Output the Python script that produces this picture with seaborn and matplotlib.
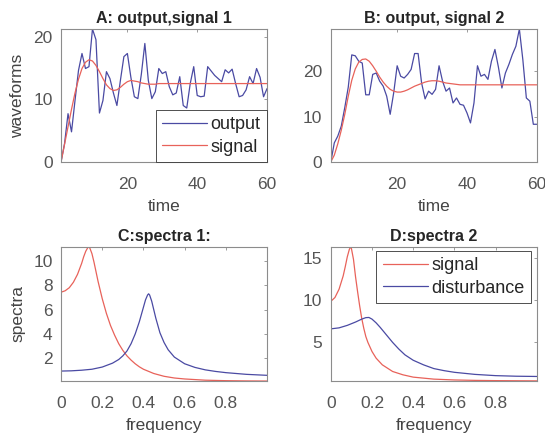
import numpy as np
import pandas as pd
import matplotlib
matplotlib.use("Agg")
import matplotlib.pyplot as plt
import seaborn as sns

# --- data ---
time = np.arange(1, 61)

output_1 = [0, 2.9, 7.7, 4.8, 9.8, 14.6, 17.3, 14.9, 15.2, 21.2,
            19.5, 7.8, 9.8, 14.4, 13.3, 11.0, 9.0, 13.0, 16.8, 17.3,
            13.5, 10.4, 10.1, 14.0, 18.9, 13.0, 10.1, 11.2, 14.9, 14.1,
            14.4, 12.0, 10.7, 11.0, 13.6, 9.0, 8.6, 12.5, 15.2, 10.6,
            10.4, 10.5, 15.2, 14.5, 13.8, 13.3, 12.8, 14.7, 14.2, 14.8,
            12.5, 10.4, 10.6, 11.5, 13.6, 12.5, 14.9, 13.5, 10.4, 11.7]
signal_1 = [0, 2.8, 5.6, 8.4, 11.0, 13.2, 14.9, 15.9, 16.3, 16.1,
            15.4, 14.4, 13.3, 12.3, 11.7, 11.4, 11.5, 11.9, 12.4, 12.8,
            13.0, 12.9, 12.8, 12.6, 12.5, 12.4, 12.4, 12.4, 12.5, 12.5,
            12.5, 12.5, 12.5, 12.5, 12.5, 12.5, 12.5, 12.5, 12.5, 12.5,
            12.5, 12.5, 12.5, 12.5, 12.5, 12.5, 12.5, 12.5, 12.5, 12.5,
            12.5, 12.5, 12.5, 12.5, 12.5, 12.5, 12.5, 12.5, 12.5, 12.5]

output_2 = [0, 4.2, 5.7, 7.9, 12.0, 16.5, 23.6, 23.4, 22.2, 21.8,
            14.8, 14.8, 19.3, 19.6, 17.8, 16.7, 14.5, 10.5, 15.2, 21.2,
            18.9, 18.5, 19.3, 20.4, 23.9, 23.9, 17.4, 13.9, 15.6, 14.9,
            16.0, 21.2, 17.8, 15.6, 16.3, 13.0, 14.1, 12.7, 12.5, 10.8,
            8.6, 13.0, 21.2, 18.9, 19.3, 18.2, 22.2, 24.8, 20.9, 16.3,
            19.6, 21.5, 23.7, 25.5, 29.3, 22.5, 14.1, 13.4, 8.3, 8.3]
signal_2 = [0, 1.5, 4.0, 7.0, 10.5, 14.5, 18.0, 20.5, 22.0, 22.6,
            22.7, 22.2, 21.2, 20.0, 18.7, 17.6, 16.7, 16.0, 15.6, 15.4,
            15.4, 15.6, 15.9, 16.3, 16.7, 17.0, 17.3, 17.6, 17.8, 17.9,
            17.9, 17.8, 17.6, 17.4, 17.3, 17.2, 17.1, 17.0, 17.0, 17.0,
            17.0, 17.0, 17.0, 17.0, 17.0, 17.0, 17.0, 17.0, 17.0, 17.0,
            17.0, 17.0, 17.0, 17.0, 17.0, 17.0, 17.0, 17.0, 17.0, 17.0]

freq_sig_1 = [0, 0.02, 0.04, 0.06, 0.08, 0.1, 0.11, 0.12, 0.13, 0.135,
              0.14, 0.15, 0.16, 0.17, 0.18, 0.19, 0.2, 0.22, 0.24, 0.26,
              0.28, 0.3, 0.32, 0.34, 0.36, 0.38, 0.4, 0.45, 0.5, 0.55,
              0.6, 0.7, 0.8, 0.9, 1.0]
spec_sig_1 = [7.43, 7.55, 7.8, 8.25, 8.9, 9.8, 10.35, 10.8, 11.1, 11.16,
              11.05, 10.6, 9.9, 9.1, 8.3, 7.6, 6.9, 5.7, 4.7, 3.9,
              3.2, 2.65, 2.2, 1.85, 1.55, 1.3, 1.1, 0.75, 0.52, 0.38,
              0.3, 0.2, 0.16, 0.14, 0.13]
freq_dist_1 = [0, 0.05, 0.1, 0.15, 0.2, 0.25, 0.28, 0.3, 0.32, 0.34,
               0.36, 0.38, 0.4, 0.41, 0.42, 0.425, 0.43, 0.44, 0.45, 0.46,
               0.48, 0.5, 0.52, 0.55, 0.6, 0.65, 0.7, 0.75, 0.8, 0.9, 1.0]
spec_dist_1 = [0.95, 0.97, 1.02, 1.1, 1.28, 1.6, 1.9, 2.2, 2.6, 3.2,
               4.0, 5.0, 6.2, 6.8, 7.2, 7.3, 7.2, 6.7, 6.0, 5.3,
               4.1, 3.3, 2.7, 2.1, 1.55, 1.25, 1.05, 0.92, 0.82, 0.68, 0.6]

freq_sig_2 = [0, 0.02, 0.04, 0.06, 0.07, 0.08, 0.09, 0.096, 0.1, 0.11,
              0.12, 0.13, 0.14, 0.15, 0.16, 0.17, 0.18, 0.2, 0.22, 0.25,
              0.3, 0.35, 0.4, 0.5, 0.6, 0.7, 0.8, 1.0]
spec_sig_2 = [9.84, 10.3, 11.3, 12.9, 14.0, 15.2, 16.1, 16.4, 16.2, 14.9,
              12.8, 11.0, 9.3, 7.8, 6.6, 5.6, 4.9, 3.8, 3.0, 2.2,
              1.4, 1.0, 0.72, 0.48, 0.38, 0.33, 0.3, 0.27]
freq_dist_2 = [0, 0.04, 0.08, 0.12, 0.15, 0.17, 0.185, 0.2, 0.22, 0.24,
               0.26, 0.28, 0.3, 0.33, 0.36, 0.4, 0.45, 0.5, 0.55, 0.6,
               0.7, 0.8, 0.9, 1.0]
spec_dist_2 = [6.53, 6.65, 6.95, 7.35, 7.7, 7.88, 7.9, 7.7, 7.25, 6.7,
               6.1, 5.5, 4.9, 4.1, 3.4, 2.75, 2.2, 1.75, 1.5, 1.3,
               1.05, 0.9, 0.83, 0.8]

BLUE = "#4a4aa3"
RED = "#e8625a"
TICK_GREY = "#555555"
FS = 12.5

sns.set_style("white")
plt.rcParams['font.family'] = ['Liberation Sans', 'DejaVu Sans']
plt.rcParams['font.size'] = FS

fig = plt.figure(figsize=(5.45, 4.4), dpi=100)

# axes positions (left, bottom, width, height) matching the MATLAB layout
ax_a = fig.add_axes([0.112, 0.632, 0.378, 0.302])
ax_b = fig.add_axes([0.607, 0.632, 0.378, 0.302])
ax_c = fig.add_axes([0.112, 0.134, 0.378, 0.305])
ax_d = fig.add_axes([0.607, 0.134, 0.378, 0.305])


def style_axes(ax):
    for sp in ax.spines.values():
        sp.set_color("#8c8c8c")
        sp.set_linewidth(0.8)
    ax.tick_params(direction="in", length=2.5, width=0.6, color="#8c8c8c",
                   labelcolor=TICK_GREY, labelsize=FS, top=True, right=True)
    ax.tick_params(axis="x", pad=11)
    ax.tick_params(axis="y", pad=6)
    ax.set_xlabel(ax.get_xlabel(), color="#444444", fontsize=FS, labelpad=5)
    ax.set_ylabel(ax.get_ylabel(), color="#444444", fontsize=FS, labelpad=6)


def style_legend(leg):
    leg.get_frame().set_edgecolor("#333333")
    leg.get_frame().set_linewidth(0.6)


# A
sns.lineplot(x=time, y=output_1, ax=ax_a, color=BLUE, lw=0.9, label="output")
sns.lineplot(x=time, y=signal_1, ax=ax_a, color=RED, lw=0.9, label="signal")
ax_a.set_xlim(1, 60)
ax_a.set_ylim(0, 21.2)
ax_a.set_xticks([20, 40, 60])
ax_a.set_yticks([0, 10, 20])
ax_a.set_title("A: output,signal 1", fontweight="bold", fontsize=11.5, pad=4)
ax_a.set_xlabel("time")
ax_a.set_ylabel("waveforms")
style_legend(ax_a.legend(loc="lower right", borderaxespad=0, fancybox=False,
                         handlelength=2.5, handletextpad=0.2, borderpad=0.35,
                         labelspacing=0.3, fontsize=FS + 0.5, framealpha=1))

# B
sns.lineplot(x=time, y=output_2, ax=ax_b, color=BLUE, lw=0.9)
sns.lineplot(x=time, y=signal_2, ax=ax_b, color=RED, lw=0.9)
ax_b.set_xlim(1, 60)
ax_b.set_ylim(0, 29.3)
ax_b.set_xticks([20, 40, 60])
ax_b.set_yticks([0, 10, 20])
ax_b.set_title("B: output, signal 2", fontweight="bold", fontsize=11.5, pad=4)
ax_b.set_xlabel("time")

# C
sns.lineplot(x=freq_sig_1, y=spec_sig_1, ax=ax_c, color=RED, lw=0.9)
sns.lineplot(x=freq_dist_1, y=spec_dist_1, ax=ax_c, color=BLUE, lw=0.9)
ax_c.set_xlim(0, 1)
ax_c.set_ylim(0.13, 11.16)
ax_c.set_xticks([0, 0.2, 0.4, 0.6, 0.8])
ax_c.set_xticklabels(["0", "0.2", "0.4", "0.6", "0.8"])
ax_c.set_yticks([2, 4, 6, 8, 10])
ax_c.set_title("C:spectra 1:", fontweight="bold", fontsize=11.5, pad=4)
ax_c.set_xlabel("frequency")
ax_c.set_ylabel("spectra")

# D
sns.lineplot(x=freq_sig_2, y=spec_sig_2, ax=ax_d, color=RED, lw=0.9, label="signal")
sns.lineplot(x=freq_dist_2, y=spec_dist_2, ax=ax_d, color=BLUE, lw=0.9, label="disturbance")
ax_d.set_xlim(0, 1)
ax_d.set_ylim(0.25, 16.4)
ax_d.set_xticks([0, 0.2, 0.4, 0.6, 0.8])
ax_d.set_xticklabels(["0", "0.2", "0.4", "0.6", "0.8"])
ax_d.set_yticks([5, 10, 15])
ax_d.set_title("D:spectra 2", fontweight="bold", fontsize=11.5, pad=4)
ax_d.set_xlabel("frequency")
style_legend(ax_d.legend(loc="upper right", bbox_to_anchor=(0.972, 0.97), borderaxespad=0,
                         fancybox=False, handlelength=2.5, handletextpad=0.2, borderpad=0.35,
                         labelspacing=0.3, fontsize=FS + 0.5, framealpha=1))

for ax in (ax_a, ax_b, ax_c, ax_d):
    style_axes(ax)

fig.savefig("out.png", dpi=100)
